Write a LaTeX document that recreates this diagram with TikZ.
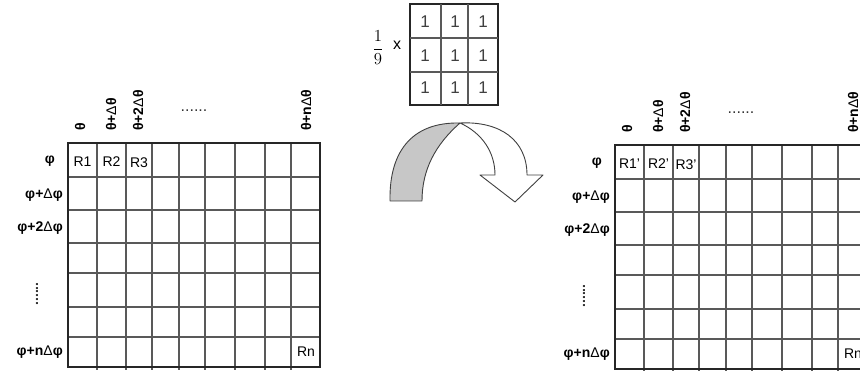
\documentclass[tikz,border=0pt]{standalone}
\usepackage{fontspec}
\usepackage{amsmath}
\setmainfont{Liberation Sans}
\newcommand{\dlt}{{\mdseries Δ}}
\tikzset{
  lbl/.style={inner sep=0pt,font=\fontsize{14}{16}\selectfont},
  axis/.style={lbl,font=\fontsize{14}{16}\selectfont\bfseries},
  cell/.style={black!65,line width=1.2pt},
  frame/.style={black!85,line width=1.2pt},
  dots/.style={lbl,black!80,font=\fontsize{16}{18}\selectfont},
}
\begin{document}
\begin{tikzpicture}[x=1pt,y=-1pt]
  \useasboundingbox (0,0) rectangle (860,371);
  \clip (0,0) rectangle (860,371);
  % input and filtered grids
  \foreach \dx/\dy/\p/\g in {0/0//in,547/2/'/out}{
    \begin{scope}[shift={(\dx,\dy)}]
      \foreach \x in {97,126,152,179,205,235,265,291}
        \draw[cell] (\x,143)--(\x,370);
      \foreach \y in {177,210,243,273,307,337}
        \draw[cell] (68,\y)--(320,\y);
      \draw[frame] (68,143) rectangle (320,367);
      \node[lbl] (\g-r1) at (82.5,162) {R1\p};
      \node[lbl] (\g-r2) at (111.5,162) {R2\p};
      \node[lbl] (\g-r3) at (139,163) {R3\p};
      \node[lbl] (\g-rn) at (306,352) {Rn};
      % column heads
      \node[axis,rotate=90,anchor=west] (\g-t0) at (80,131) {θ};
      \node[axis,rotate=90,anchor=west] (\g-t1) at (111,131) {θ+\dlt θ};
      \node[axis,rotate=90,anchor=west] (\g-t2) at (138,131) {θ+2\dlt θ};
      \node[dots] (\g-tdots) at (194,111) {......};
      \node[axis,rotate=90,anchor=west] (\g-tn) at (306,131) {θ+n\dlt θ};
      % row heads
      \node[axis,anchor=east] (\g-f0) at (55,161) {φ};
      \node[axis,anchor=east] (\g-f1) at (63,195) {φ+\dlt φ};
      \node[axis,anchor=east] (\g-f2) at (63,228) {φ+2\dlt φ};
      \node[dots,rotate=90,font=\fontsize{14}{16}\selectfont\bfseries] (\g-fdots) at (37,294) {......};
      \node[axis,anchor=east] (\g-fn) at (63,352) {φ+n\dlt φ};
    \end{scope}
  }
  % averaging kernel
  \draw[frame] (410,4) rectangle (498,105);
  \foreach \x in {441,468} \draw[cell] (\x,4)--(\x,105);
  \foreach \y in {38,72} \draw[cell] (410,\y)--(498,\y);
  \foreach \x in {425,455,483}
    \foreach \y in {22,56,88}
      \node[lbl,black!75,font=\fontsize{17}{19}\selectfont] (k-\x-\y) at (\x,\y) {1};
  \begin{scope}[shift={(378,48)},scale=1.4,transform shape]
    \node[inner sep=0pt,font=\fontsize{12}{14}\selectfont] (frac) at (0,0) {$\dfrac{1}{9}$};
  \end{scope}
  \node[lbl,font=\fontsize{16}{18}\selectfont] (times) at (397,45) {x};
  % twisted arrow
  \filldraw[fill=black!22,draw=black!75,line width=.9pt,line join=round]
    (390,201) .. controls (389,148) and (415,122) .. (460,123)
    .. controls (435,145) and (422,170) .. (422,201) -- cycle;
  \filldraw[fill=white,draw=black!75,line width=.9pt,line join=round]
    (460,123) .. controls (500,121) and (527,140) .. (527,175)
    -- (543,175) -- (515,202) -- (480,175) -- (495,175)
    .. controls (495,152) and (482,133) .. (460,123) -- cycle;
\end{tikzpicture}
\end{document}
